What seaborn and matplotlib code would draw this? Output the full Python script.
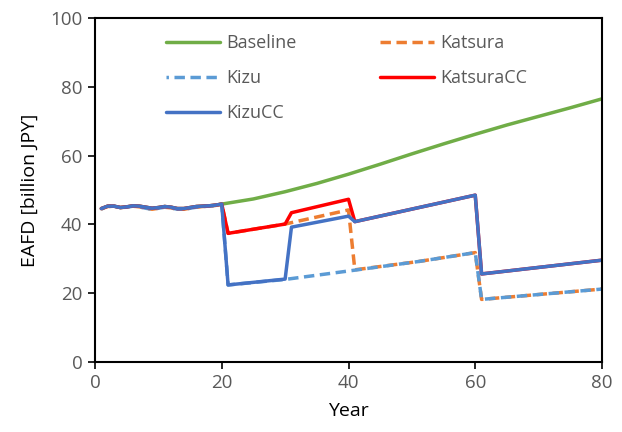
import matplotlib
matplotlib.use("Agg")
import matplotlib.pyplot as plt
import seaborn as sns
import pandas as pd

# ---- data ----
early_years = list(range(1, 21))
early_cc = [44.6, 45.3, 45.3, 44.9, 45.1, 45.4, 45.3, 45.0, 44.7, 44.9,
            45.2, 45.0, 44.6, 44.6, 44.9, 45.2, 45.3, 45.4, 45.6, 45.9]
early_dash = [44.5, 45.2, 45.3, 44.9, 45.0, 45.3, 45.1, 44.7, 44.4, 44.7,
              45.0, 44.8, 44.4, 44.4, 44.7, 45.0, 45.2, 45.3, 45.5, 45.9]

baseline_years = [25, 30, 35, 40, 45, 50, 55, 60, 65, 70, 75, 80]
baseline_vals = [47.4, 49.5, 51.9, 54.6, 57.5, 60.5, 63.4, 66.2, 68.9, 71.4, 73.9, 76.5]

katsura_years = [21, 30, 40, 41, 51, 60, 61, 80]
katsura_vals = [37.4, 40.1, 44.2, 26.8, 29.2, 31.8, 18.2, 21.2]

kizu_years = [21, 30, 41, 51, 60, 61, 80]
kizu_vals = [22.4, 24.0, 26.7, 29.2, 31.8, 18.2, 21.2]

katsuracc_years = [21, 30, 31, 40, 41, 60, 61, 80]
katsuracc_vals = [37.4, 40.1, 43.4, 47.3, 40.8, 48.5, 25.6, 29.6]

kizucc_years = [21, 30, 31, 40, 41, 60, 61, 80]
kizucc_vals = [22.4, 24.1, 39.2, 42.4, 40.8, 48.5, 25.6, 29.6]

x_ticks = [0, 20, 40, 60, 80]
y_ticks = [0, 20, 40, 60, 80, 100]

# ---- style ----
sns.set_theme(style="white")
plt.rcParams["font.family"] = ["Open Sans", "DejaVu Sans"]

fig = plt.figure(figsize=(6.22, 4.32), dpi=100)
ax = fig.add_axes([95 / 622, 1 - 362 / 432, 507 / 622, 344 / 432])

series = [
    ("Baseline", early_years + baseline_years, early_cc + baseline_vals, "#70AD47", "-"),
    ("Katsura", early_years + katsura_years, early_dash + katsura_vals, "#ED7D31", (0, (3, 1.6))),
    ("Kizu", early_years + kizu_years, early_dash + kizu_vals, "#5B9BD5", (2.3, (3, 1.6))),
    ("KatsuraCC", early_years + katsuracc_years, early_cc + katsuracc_vals, "#FF0000", "-"),
    ("KizuCC", early_years + kizucc_years, early_cc + kizucc_vals, "#4472C4", "-"),
]

for name, xs, ys, col, ls in series:
    df = pd.DataFrame({"Year": xs, "v": ys})
    sns.lineplot(data=df, x="Year", y="v", ax=ax, color=col, linestyle=ls,
                 linewidth=2.5, label=name, sort=True)

ax.set_xlim(0, 80)
ax.set_ylim(0, 100)
ax.set_xticks(x_ticks)
ax.set_yticks(y_ticks)
ax.tick_params(axis="both", direction="out", length=5, width=1.2, color="black",
               labelsize=13.5, labelcolor="#595959", pad=4, left=True, bottom=True)
for s in ax.spines.values():
    s.set_color("black")
    s.set_linewidth(1.5)
    s.set_visible(True)

ax.set_xlabel("Year", fontsize=14, color="black", labelpad=7)
ax.set_ylabel("EAFD [billion JPY]", fontsize=14, color="black", labelpad=8)

handles, labels = ax.get_legend_handles_labels()
order = [0, 2, 4, 1, 3]  # row-major fill: Baseline, Katsura / Kizu, KatsuraCC / KizuCC
leg = ax.legend([handles[i] for i in order], [labels[i] for i in order],
                ncol=2, frameon=False, loc="upper left",
                bbox_to_anchor=(0.115, 0.99), fontsize=13, labelcolor="#595959",
                handlelength=3.0, handletextpad=0.35, columnspacing=4.6,
                labelspacing=0.95, borderpad=0.2)

fig.savefig("out.png", dpi=100)
